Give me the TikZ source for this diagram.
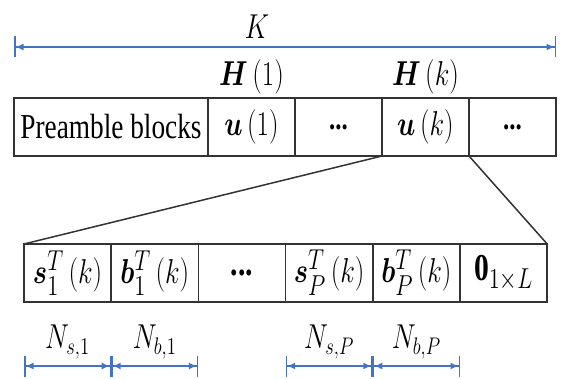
\documentclass[tikz,border=0pt]{standalone}
\usepackage{amsmath,amssymb,bm}
\usepackage{fontspec}
\setmainfont{Liberation Serif}
\usepackage{graphicx}
\definecolor{clDim}{HTML}{4472C4}
\definecolor{clEdge}{HTML}{333333}
\usetikzlibrary{arrows.meta,positioning,calc}
\newcommand{\narrowtxt}[1]{\scalebox{0.78}[1]{#1}}
\tikzset{
  cell/.style={rectangle, draw=clEdge, line width=0.75pt, outer sep=0pt,
               inner sep=0pt, minimum height=29pt, minimum width=43.5pt,
               font=\fontsize{16}{19}\selectfont},
  subcell/.style={cell, minimum width=43.6pt, font=\fontsize{19}{23}\selectfont},
  zoomline/.style={draw=clEdge, line width=0.75pt},
  dim/.style={arrows={Bar[width=10.5pt,line width=0.75pt]Latex[length=4pt,width=3.5pt]-Latex[length=4pt,width=3.5pt]Bar[width=10.5pt,line width=0.75pt]},
              draw=clDim, line width=0.75pt},
  dimlabel/.style={inner sep=0pt, font=\fontsize{16.5}{19}\selectfont},
}
\begin{document}
\begin{tikzpicture}[x=1pt, y=1pt]
  \useasboundingbox (0,0) rectangle (281,-189.5);
  % frame of blocks
  \node[cell, minimum width=97pt, font=\fontsize{17.5}{21}\selectfont, anchor=north west] (pre) at (7,-49) {\narrowtxt{Preamble blocks}};
  \node[cell, right=0pt of pre] (u1) {\narrowtxt{$\bm{u}\,(1)$}};
  \node[cell, right=0pt of u1] (dots1) {\narrowtxt{\textbf{...}}};
  \node[cell, right=0pt of dots1] (uk) {\narrowtxt{$\bm{u}\,(k)$}};
  \node[cell, right=0pt of uk] (dots2) {\narrowtxt{\textbf{...}}};
  \node[dimlabel] (h1) at ([yshift=10.5pt]u1.north) {\narrowtxt{$\bm{H}\,(1)$}};
  \node[dimlabel] (hk) at ([yshift=10.5pt]uk.north) {\narrowtxt{$\bm{H}\,(k)$}};
  % overall length K
  \coordinate (kL) at ([yshift=25.5pt]pre.north west);
  \coordinate (kR) at ([yshift=25.5pt]dots2.north east);
  \draw[dim] (kL) -- (kR);
  \node[dimlabel] (klbl) at (128.5,-13.5) {\narrowtxt{$K$}};
  % content of u(k)
  \node[subcell, anchor=north west] (s1) at (12,-122) {\narrowtxt{$\bm{s}_1^T\,(k)$}};
  \node[subcell, right=0pt of s1] (b1) {\narrowtxt{$\bm{b}_1^T\,(k)$}};
  \node[subcell, right=0pt of b1] (dots3) {\narrowtxt{\textbf{...}}};
  \node[subcell, right=0pt of dots3] (sP) {\narrowtxt{$\bm{s}_P^T\,(k)$}};
  \node[subcell, right=0pt of sP] (bP) {\narrowtxt{$\bm{b}_P^T\,(k)$}};
  \node[subcell, right=0pt of bP] (zeros) {\narrowtxt{$\mathbf{0}_{1\times L}$}};
  \draw[zoomline] (uk.south west) -- (s1.north west);
  \draw[zoomline] (uk.south east) -- (zeros.north east);
  % lengths of the parts
  \coordinate (d0) at ([yshift=-32pt]s1.south west);
  \coordinate (d1) at ([yshift=-32pt]s1.south east);
  \coordinate (d2) at ([yshift=-32pt]b1.south east);
  \coordinate (d3) at ([yshift=-32pt]sP.south west);
  \coordinate (d4) at ([yshift=-32pt]sP.south east);
  \coordinate (d5) at ([yshift=-32pt]bP.south east);
  \draw[dim] (d0) -- (d1);
  \draw[dim] (d1) -- (d2);
  \draw[dim] (d3) -- (d4);
  \draw[dim] (d4) -- (d5);
  \node[dimlabel] (ns1) at ($(d0)!0.5!(d1)+(0,12)$) {\narrowtxt{$N_{s,1}$}};
  \node[dimlabel] (nb1) at ($(d1)!0.5!(d2)+(0,12)$) {\narrowtxt{$N_{b,1}$}};
  \node[dimlabel] (nsP) at ($(d3)!0.5!(d4)+(0,12)$) {\narrowtxt{$N_{s,P}$}};
  \node[dimlabel] (nbP) at ($(d4)!0.5!(d5)+(0,12)$) {\narrowtxt{$N_{b,P}$}};
\end{tikzpicture}
\end{document}
